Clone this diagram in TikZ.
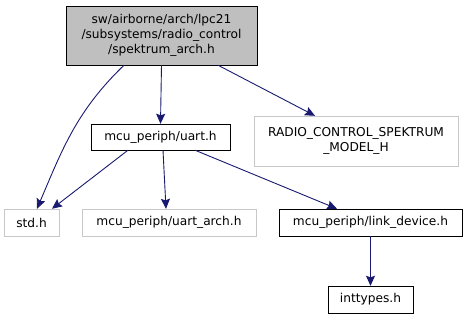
\documentclass[tikz,border=0pt]{standalone}
\usepackage{fontspec}
\setmainfont{DejaVu Sans}
\usetikzlibrary{arrows.meta}
\definecolor{edgeblue}{RGB}{25,25,112}
\definecolor{rootgray}{RGB}{191,191,191}
\definecolor{extgray}{RGB}{200,200,200}
\tikzset{
  file/.style={draw=black,fill=white,inner sep=0pt,align=center,font=\fontsize{12.2}{15}\selectfont},
  extfile/.style={file,draw=extgray},
  dep/.style={draw=edgeblue,line width=0.9pt,-{Stealth[length=10pt,width=9pt,inset=1.5pt]}}
}
\begin{document}
\begin{tikzpicture}[x=1pt,y=-1pt]
        \useasboundingbox (0,0) rectangle (467,320);
        %% the header itself
        \node[file,fill=rootgray,minimum width=191pt,minimum height=59pt] (spektrum) at (161.5,35.5)
          {sw/airborne/arch/lpc21\hspace{26pt}\\/subsystems/radio\_control\\/spektrum\_arch.h};
        %% direct includes
        \node[file,minimum width=139pt,minimum height=26pt] (uart) at (160.5,137) {mcu\_periph/uart.h};
        \node[extfile,minimum width=204pt,minimum height=50pt] (model) at (356,141)
          {RADIO\_CONTROL\_SPEKTRUM\\\_MODEL\_H};
        %% second row
        \node[extfile,minimum width=55pt,minimum height=27pt] (std) at (31.5,222.5) {std.h};
        \node[extfile,minimum width=174pt,minimum height=27pt] (uartarch) at (169,222.5) {mcu\_periph/uart\_arch.h};
        \node[file,minimum width=183pt,minimum height=27pt] (link) at (370.5,222.5) {mcu\_periph/link\_device.h};
        \node[file,minimum width=85pt,minimum height=27pt] (inttypes) at (370.5,299.5) {inttypes.h};
        %% include edges
        \draw[dep] ([xshift=-37.5pt]spektrum.south) to[out=-136,in=67] ([xshift=5.5pt]std.north);
        \draw[dep] (spektrum.south) -- (uart.north);
        \draw[dep] ([xshift=56.5pt]spektrum.south) -- ([xshift=-41pt]model.north);
        \draw[dep] ([xshift=-32.5pt]uart.south) -- ([xshift=20.5pt]std.north);
        \draw[dep] ([xshift=2.5pt]uart.south) -- ([xshift=-3pt]uartarch.north);
        \draw[dep] ([xshift=34.5pt]uart.south) -- ([xshift=-33.5pt]link.north);
        \draw[dep] (link.south) -- (inttypes.north);
    \end{tikzpicture}
\end{document}
